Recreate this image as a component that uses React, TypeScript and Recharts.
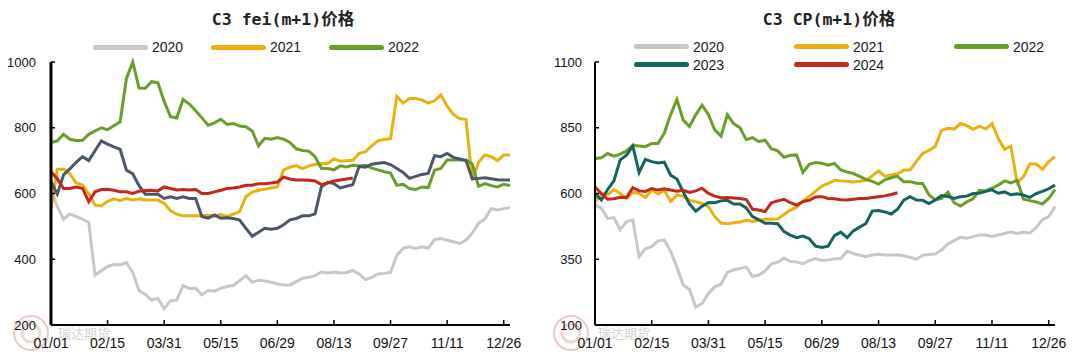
import { LineChart, Line, XAxis, YAxis } from 'recharts';

// day-of-year grid (every 5 days)
const days = [
  0, 5, 10, 15, 20, 25, 30, 35, 40, 45,
  50, 55, 60, 65, 70, 75, 80, 85, 90, 95,
  100, 105, 110, 115, 120, 125, 130, 135, 140, 145,
  150, 155, 160, 165, 170, 175, 180, 185, 190, 195,
  200, 205, 210, 215, 220, 225, 230, 235, 240, 245,
  250, 255, 260, 265, 270, 275, 280, 285, 290, 295,
  300, 305, 310, 315, 320, 325, 330, 335, 340, 345,
  350, 355, 360, 365,
];

const dateTicks = [0, 45, 90, 135, 180, 225, 270, 315, 360];
const dateLabels = ['01/01', '02/15', '03/31', '05/15', '06/29', '08/13', '09/27', '11/11', '12/26'];

const feiTicks = [200, 400, 600, 800, 1000];
const cpTicks = [100, 350, 600, 850, 1100];

// C3 fei (m+1)
const fei2020 = [
  615, 560, 522, 538, 530, 522, 512, 352, 365, 378,
  384, 383, 390, 360, 305, 293, 276, 281, 250, 274,
  276, 320, 311, 312, 292, 305, 303, 312, 317, 320,
  335, 350, 330, 336, 334, 330, 325, 322, 322, 332,
  342, 345, 350, 361, 358, 361, 358, 360, 366, 355,
  338, 345, 355, 357, 360, 412, 433, 438, 433, 438,
  434, 460, 463, 458, 453, 448, 458, 480, 510, 522,
  554, 550, 554, 557,
];
const fei2021 = [
  555, 674, 674, 660, 632, 626, 600, 565, 562, 576,
  584, 578, 585, 580, 584, 580, 580, 580, 570, 548,
  537, 532, 532, 532, 532, 534, 531, 536, 530, 537,
  545, 590, 604, 610, 613, 617, 620, 672, 680, 685,
  676, 684, 688, 691, 691, 705, 698, 700, 701, 722,
  727, 745, 760, 764, 767, 895, 875, 889, 889, 885,
  875, 882, 900, 866, 840, 828, 825, 640, 695, 717,
  712, 700, 717, 717,
];
const fei2022 = [
  755, 760, 780, 765, 761, 762, 780, 790, 800, 794,
  806, 818, 950, 1000, 921, 920, 940, 937, 880, 834,
  830, 886, 872, 852, 830, 808, 815, 826, 810, 813,
  805, 803, 790, 745, 768, 765, 770, 765, 755, 736,
  731, 729, 712, 677, 676, 672, 684, 681, 686, 684,
  686, 677, 672, 666, 662, 625, 628, 615, 612, 620,
  618, 671, 676, 702, 702, 702, 702, 690, 622, 630,
  624, 620, 628, 624,
];
const fei2023 = [
  636, 598, 657, 675, 695, 712, 700, 730, 760, 750,
  742, 734, 671, 660, 624, 598, 598, 598, 585, 590,
  585, 590, 585, 585, 530, 525, 535, 525, 526, 524,
  519, 494, 470, 482, 494, 491, 494, 505, 520, 524,
  532, 532, 538, 620, 634, 630, 617, 622, 627, 682,
  680, 689, 692, 694, 688, 676, 664, 646, 652, 658,
  661, 715, 712, 722, 710, 705, 700, 645, 646, 648,
  645, 642, 641, 641,
];
const fei2024 = [
  666, 645, 615, 615, 620, 616, 575, 605, 612, 613,
  610, 605, 605, 600, 607, 609, 610, 608, 620, 615,
  611, 612, 611, 612, 600, 600, 605, 610, 615, 617,
  620, 625, 625, 630, 630, 632, 635, 650, 644, 641,
  641, 640, 638, 627, 632, 638, 641, 644, 647,
];

// C3 CP (m+1)
const cp2020 = [
  556, 545, 505, 508, 462, 493, 500, 360, 391, 398,
  420, 423, 380, 320, 252, 235, 168, 182, 220, 245,
  255, 300, 310, 315, 320, 285, 290, 305, 333, 339,
  355, 341, 340, 333, 345, 353, 345, 347, 352, 353,
  380, 372, 365, 361, 366, 369, 366, 366, 366, 363,
  358, 350, 365, 368, 370, 385, 408, 421, 434, 430,
  436, 442, 442, 437, 442, 448, 454, 448, 453, 450,
  470, 500, 512, 550,
];
const cp2021 = [
  569, 600, 596, 615, 600, 581, 605, 600, 585, 613,
  598, 612, 570, 594, 590, 574, 569, 562, 550, 512,
  488, 485, 489, 492, 498, 494, 498, 502, 502, 503,
  520, 537, 548, 572, 590, 608, 628, 638, 650, 648,
  647, 644, 647, 650, 667, 686, 666, 670, 675, 689,
  689, 722, 752, 764, 780, 840, 848, 845, 866, 858,
  844, 856, 845, 866, 809, 768, 780, 640, 664, 712,
  712, 692, 721, 740,
];
const cp2022 = [
  733, 736, 752, 742, 750, 762, 783, 781, 778, 790,
  790, 830, 900, 958, 879, 855, 900, 936, 900, 842,
  818, 900, 866, 850, 805, 812, 797, 803, 770, 762,
  738, 745, 746, 680, 711, 718, 715, 708, 714, 690,
  682, 676, 665, 654, 646, 636, 652, 660, 665, 645,
  645, 639, 638, 595, 576, 581, 605, 565, 552, 568,
  580, 612, 610, 620, 632, 648, 640, 650, 578, 573,
  568, 560, 581, 615,
];
const cp2023 = [
  600, 575, 615, 648, 728, 746, 780, 680, 730, 721,
  716, 719, 670, 655, 606, 560, 533, 552, 566, 565,
  572, 574, 560, 560, 545, 512, 500, 487, 487, 485,
  455, 442, 432, 438, 428, 400, 395, 400, 440, 453,
  432, 458, 472, 486, 533, 535, 530, 522, 540, 575,
  588, 575, 574, 562, 575, 592, 589, 581, 588, 590,
  600, 601, 608, 614, 601, 606, 595, 599, 594, 585,
  600, 608, 618, 632,
];
const cp2024 = [
  625, 600, 578, 580, 586, 585, 622, 610, 608, 619,
  613, 618, 613, 609, 612, 604, 610, 620, 600, 590,
  584, 585, 583, 581, 577, 540, 537, 531, 565, 572,
  578, 565, 556, 569, 574, 587, 588, 581, 580, 576,
  575, 578, 581, 581, 585, 588, 591, 596, 603,
];

const C2020 = '#cdc4c6';
const C2021 = '#e9b10f';
const C2022 = '#6a9e2b';
const C2024 = '#c4271b';

type Series = { key: string; name: string; color: string; values: number[] };

const feiSeries: Series[] = [
  { key: 'y2020', name: '2020', color: C2020, values: fei2020 },
  { key: 'y2021', name: '2021', color: C2021, values: fei2021 },
  { key: 'y2022', name: '2022', color: C2022, values: fei2022 },
  { key: 'y2023', name: '2023', color: '#4d576b', values: fei2023 },
  { key: 'y2024', name: '2024', color: C2024, values: fei2024 },
];

const cpSeries: Series[] = [
  { key: 'y2020', name: '2020', color: C2020, values: cp2020 },
  { key: 'y2021', name: '2021', color: C2021, values: cp2021 },
  { key: 'y2022', name: '2022', color: C2022, values: cp2022 },
  { key: 'y2023', name: '2023', color: '#17635d', values: cp2023 },
  { key: 'y2024', name: '2024', color: C2024, values: cp2024 },
];

function buildRows(series: Series[]) {
  return days.map((d, i) => {
    const row: Record<string, number | null> = { d };
    series.forEach((s) => {
      row[s.key] = i < s.values.length ? s.values[i] : null;
    });
    return row;
  });
}

const tickFont = '"Liberation Sans", Arial, sans-serif';

function XTick(props: any) {
  const { x, y, payload } = props;
  const i = dateTicks.indexOf(payload.value);
  return (
    <g>
      {payload.value > 0 && <line x1={x} x2={x} y1={y} y2={y - 5} stroke="#000" strokeWidth={1.5} />}
      <text x={x} y={y + 22.5} textAnchor="middle" fontSize={14} fontFamily={tickFont} fill="#111">
        {dateLabels[i]}
      </text>
    </g>
  );
}

function YTick(props: any) {
  const { x, y, payload, gap } = props;
  return (
    <g>
      <line x1={x} x2={x + 4} y1={y} y2={y} stroke="#000" strokeWidth={1.5} />
      <text x={x - gap} y={y + 4.5} textAnchor="end" fontSize={13} fontFamily={tickFont} fill="#111">
        {payload.value}
      </text>
    </g>
  );
}

type PanelProps = {
  left: number;
  title: string;
  titleX: number;
  series: Series[];
  legend: { name: string; color: string; x: number; y: number }[];
  yTicks: number[];
  yWidth: number;
  rightMargin: number;
  yStroke: number;
  yGap: number;
};

function Panel({ left, title, titleX, series, legend, yTicks, yWidth, rightMargin, yStroke, yGap }: PanelProps) {
  const rows = buildRows(series);
  return (
    <div style={{ position: 'absolute', left, top: 0, width: 540, height: 361 }}>
      {/* watermark */}
      <svg width={130} height={50} style={{ position: 'absolute', left: 8, top: 311 }}>
        <circle cx={23} cy={22} r={17} fill="none" stroke="#efc9c4" strokeWidth={2} />
        <circle cx={23} cy={22} r={9} fill="none" stroke="#f3d6d2" strokeWidth={3} />
        <text x={50} y={27} fontSize={13} fill="#d4d4d4" fontFamily='"Noto Sans CJK SC", sans-serif'>
          瑞达期货
        </text>
      </svg>
      <div
        style={{
          position: 'absolute',
          left: titleX - 100,
          width: 200,
          top: 6,
          textAlign: 'center',
          fontFamily: '"DejaVu Sans Mono", "Noto Sans CJK SC", monospace',
          fontWeight: 700,
          fontSize: 16.5,
          color: '#222',
          whiteSpace: 'nowrap',
        }}
      >
        {title}
      </div>
      {legend.map((l) => (
        <div key={l.name}>
          <div
            style={{
              position: 'absolute',
              left: l.x,
              top: l.y - 2.5,
              width: 55,
              height: 5,
              borderRadius: 3,
              background: l.color,
            }}
          />
          <div
            style={{
              position: 'absolute',
              left: l.x + 59,
              top: l.y - 9,
              fontSize: 14,
              lineHeight: '18px',
              fontFamily: tickFont,
              color: '#1a1a1a',
            }}
          >
            {l.name}
          </div>
        </div>
      ))}
      <div style={{ position: 'absolute', left: 0, top: 0 }}>
        <LineChart width={540} height={361} data={rows} margin={{ top: 62, right: rightMargin, bottom: 0, left: 0 }}>
          <XAxis
            dataKey="d"
            type="number"
            domain={[0, 365]}
            ticks={dateTicks}
            interval={0}
            height={36}
            tickSize={0}
            tickMargin={0}
            tickLine={false}
            axisLine={{ stroke: '#000', strokeWidth: 2 }}
            tick={(p: any) => <XTick {...p} />}
          />
          <YAxis
            type="number"
            domain={[yTicks[0], yTicks[yTicks.length - 1]]}
            ticks={yTicks}
            interval={0}
            width={yWidth}
            tickSize={0}
            tickMargin={0}
            tickLine={false}
            axisLine={{ stroke: '#000', strokeWidth: yStroke }}
            tick={(p: any) => <YTick {...p} gap={yGap} />}
          />
          {series.map((s) => (
            <Line
              key={s.key}
              dataKey={s.key}
              type="linear"
              stroke={s.color}
              strokeWidth={3}
              dot={false}
              connectNulls={false}
              isAnimationActive={false}
            />
          ))}
        </LineChart>
      </div>
    </div>
  );
}

export default function App() {
  return (
    <div style={{ position: 'absolute', left: 0, top: 0, width: 1080, height: 361, background: '#fff' }}>
      <Panel
        left={0}
        title="C3 fei(m+1)价格"
        titleX={283}
        series={feiSeries}
        legend={feiSeries.slice(0, 3).map((s, i) => ({ name: s.name, color: s.color, x: 93 + i * 118, y: 47 }))}
        yTicks={feiTicks}
        yWidth={51}
        rightMargin={30}
        yStroke={3}
        yGap={15}
      />
      <Panel
        left={540}
        title="C3 CP(m+1)价格"
        titleX={289}
        series={cpSeries}
        legend={cpSeries.map((s, i) => ({
          name: s.name,
          color: s.color,
          x: 94 + (i % 3) * 160,
          y: i < 3 ? 46.5 : 64.5,
        }))}
        yTicks={cpTicks}
        yWidth={55}
        rightMargin={25}
        yStroke={2}
        yGap={13}
      />
    </div>
  );
}
